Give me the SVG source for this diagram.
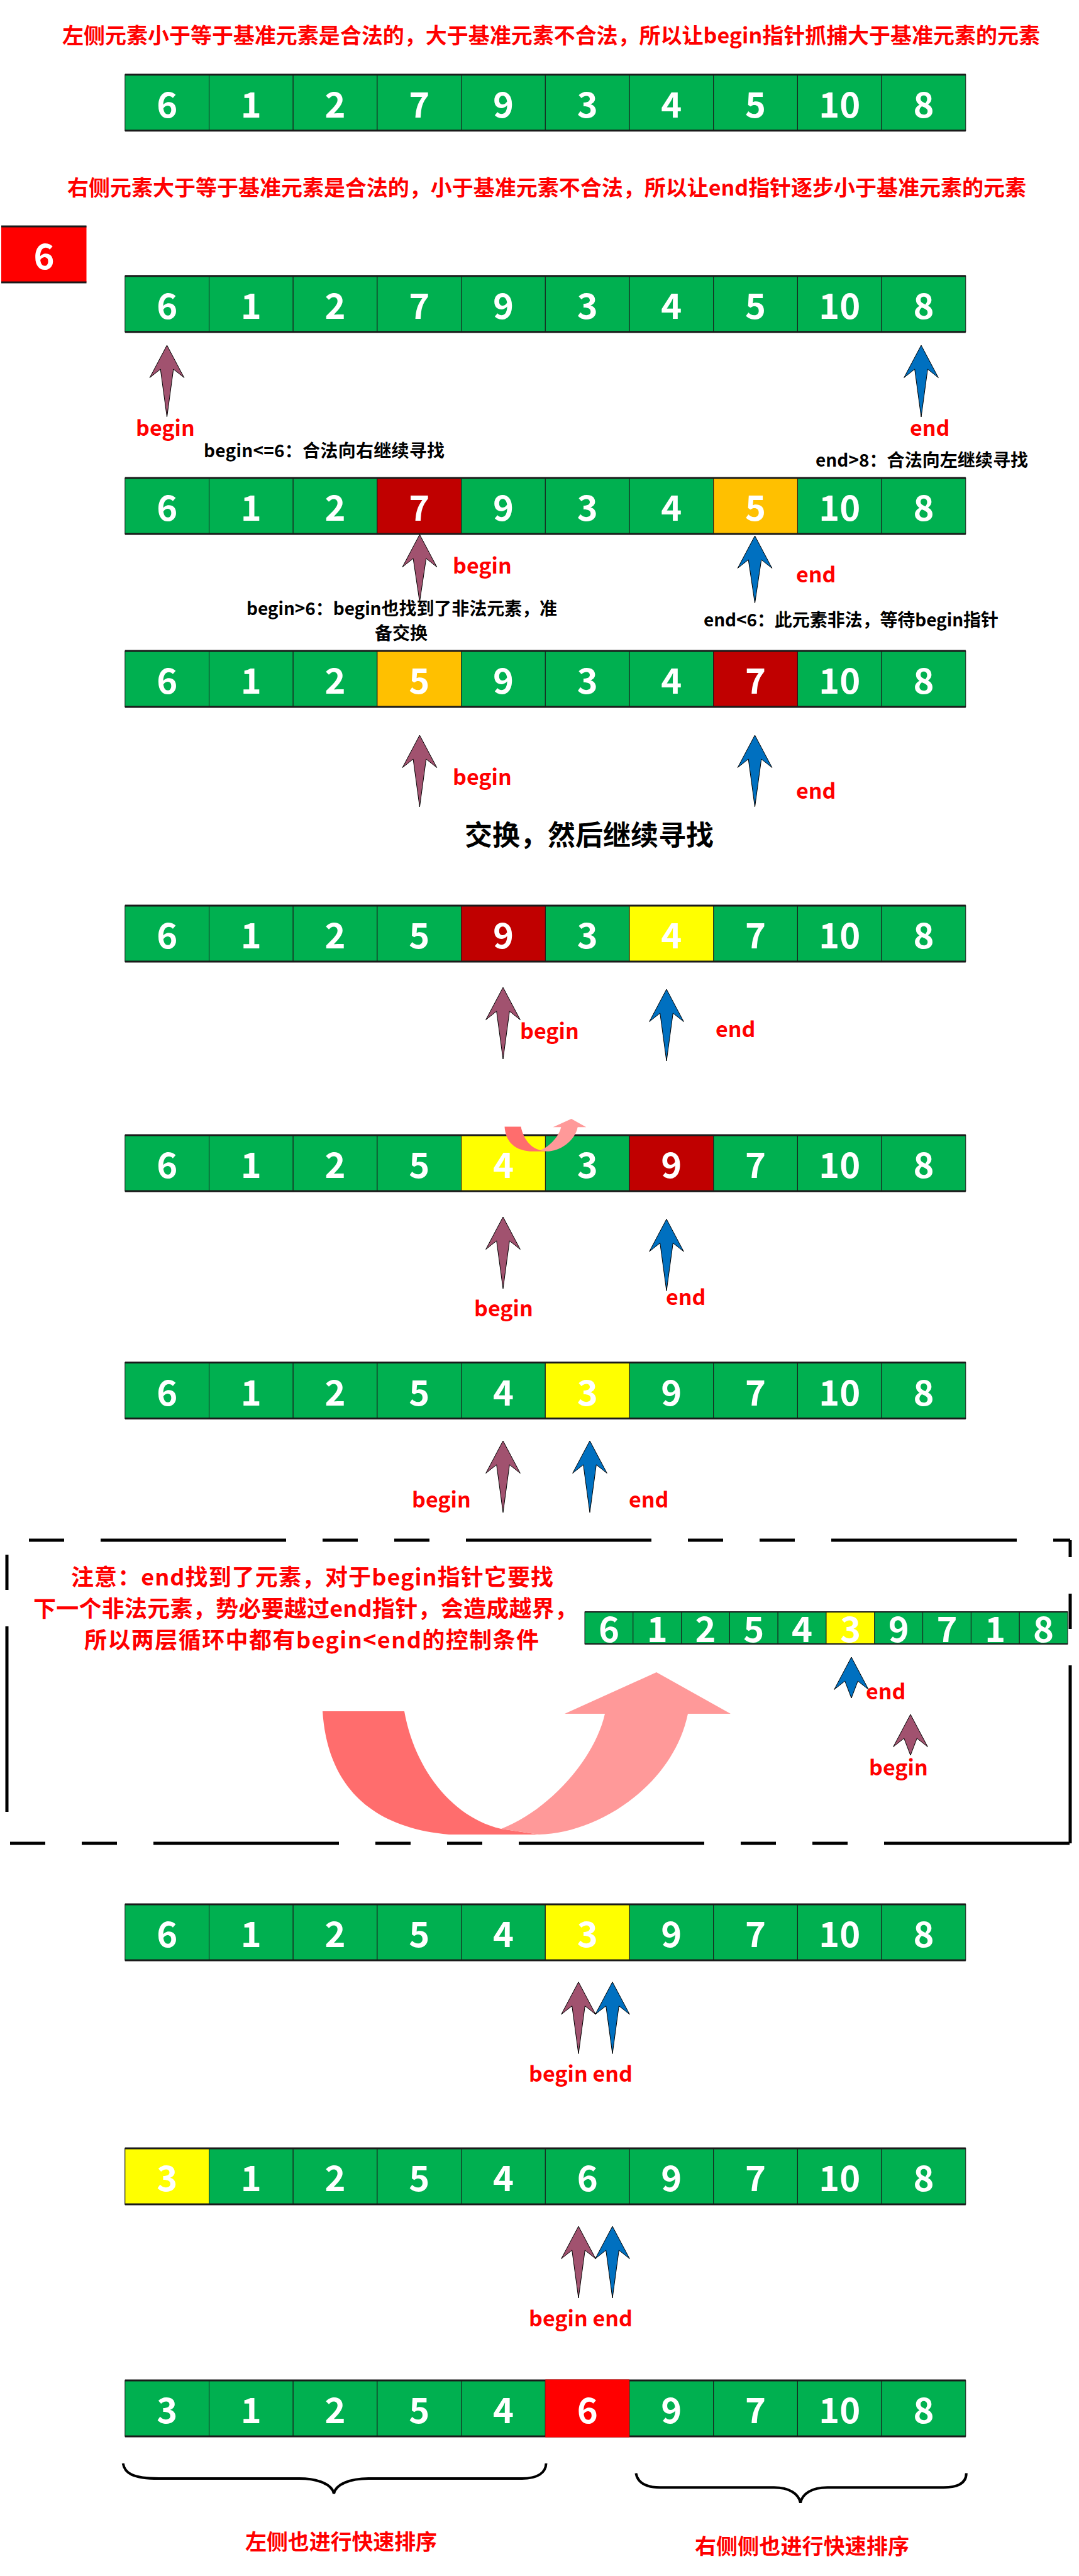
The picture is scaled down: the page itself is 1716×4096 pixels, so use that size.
<svg xmlns="http://www.w3.org/2000/svg" xmlns:xlink="http://www.w3.org/1999/xlink" width="1716" height="4096" viewBox="0 0 1716 4096">
<style>
.c{stroke:#1a1a1a;stroke-width:1}
.g{fill:#00B050}.dr{fill:#C00000}.or{fill:#FFC000}.ye{fill:#FFFF00}.rd{fill:#FF0000}
.bar{fill:#1a1a1a}
.num{font-family:"Noto Sans CJK SC","Noto Sans",sans-serif;font-weight:700;font-size:56px;fill:#fff;text-anchor:middle}
.title{font-family:"Noto Sans CJK SC",sans-serif;font-weight:700;font-size:34px;fill:#FF0000}
.lbl{font-family:"Noto Sans CJK SC","Noto Sans",sans-serif;font-weight:700;font-size:34px;fill:#FF0000}
.ann{font-family:"Noto Sans CJK SC",sans-serif;font-weight:700;font-size:28px;fill:#000}
.big{font-family:"Noto Sans CJK SC",sans-serif;font-weight:700;font-size:44px;fill:#000;text-anchor:middle}
.pb{fill:#A1526F;stroke:#000;stroke-width:1}
.pe{fill:#0070C0;stroke:#000;stroke-width:1}
.dash{stroke:#000;stroke-width:5;fill:none;stroke-dasharray:295 58 56 58 56 58}
.brace{fill:none;stroke:#000;stroke-width:4}
</style>
<defs>
<g id="row">
<rect class="c g" x="198.8" y="0" width="133.7" height="89"/>
<rect class="c g" x="332.5" y="0" width="133.7" height="89"/>
<rect class="c g" x="466.2" y="0" width="133.7" height="89"/>
<rect class="c g" x="599.9" y="0" width="133.7" height="89"/>
<rect class="c g" x="733.6" y="0" width="133.7" height="89"/>
<rect class="c g" x="867.3" y="0" width="133.7" height="89"/>
<rect class="c g" x="1001" y="0" width="133.7" height="89"/>
<rect class="c g" x="1134.7" y="0" width="133.7" height="89"/>
<rect class="c g" x="1268.4" y="0" width="133.7" height="89"/>
<rect class="c g" x="1402.1" y="0" width="133.7" height="89"/>
</g>
<g id="bars">
<rect class="bar" x="198.8" y="-1.5" width="1337" height="3"/>
<rect class="bar" x="198.8" y="87.5" width="1337" height="3"/>
</g>
<path id="arL" d="M0,0 L27.3,51.5 L10.3,38 L0,114 L-10.3,38 L-27.3,51.5 Z"/>
<path id="arM" d="M0,0 L27.3,51.5 L10.3,38 L0,107 L-10.3,38 L-27.3,51.5 Z"/>
<path id="arS" d="M0,0 L27.3,51.5 L10.3,38 L0,65 L-10.3,38 L-27.3,51.5 Z"/>
<g id="curve">
<path fill="#FF6D6D" d="M513,2721 L643,2721 C660,2815 720,2890 797,2908 L857,2917 L714,2917 C580,2905 520,2830 513,2721 Z"/>
<path fill="#FF9999" d="M797,2908 C870,2880 945,2800 962,2725 L898,2725 L1044,2659 L1162,2725 L1094,2725 C1070,2840 950,2915 857,2917 Z"/>
</g>
</defs>

<g id="title1"><text class="title" x="99" y="69" textLength="1555">左侧元素小于等于基准元素是合法的，大于基准元素不合法，所以让begin指针抓捕大于基准元素的元素</text></g>

<g id="arr1" transform="translate(0,118.7)">
<use href="#row"/><use href="#bars"/>
<text class="num" x="265.65" y="68">6</text><text class="num" x="399.35" y="68">1</text><text class="num" x="533.05" y="68">2</text><text class="num" x="666.75" y="68">7</text><text class="num" x="800.45" y="68">9</text><text class="num" x="934.15" y="68">3</text><text class="num" x="1067.85" y="68">4</text><text class="num" x="1201.55" y="68">5</text><text class="num" x="1335.25" y="68">10</text><text class="num" x="1468.95" y="68">8</text>
</g>

<g id="title2"><text class="title" x="107" y="311" textLength="1525">右侧元素大于等于基准元素是合法的，小于基准元素不合法，所以让end指针逐步小于基准元素的元素</text></g>

<g id="pivot">
<rect class="rd" x="2" y="360" width="135.5" height="89"/>
<rect class="bar" x="2" y="358.5" width="135.5" height="3"/>
<rect class="bar" x="2" y="447.5" width="135.5" height="3"/>
<text class="num" x="70" y="428">6</text>
</g>

<g id="arr2" transform="translate(0,438.8)">
<use href="#row"/><use href="#bars"/>
<text class="num" x="265.65" y="68">6</text><text class="num" x="399.35" y="68">1</text><text class="num" x="533.05" y="68">2</text><text class="num" x="666.75" y="68">7</text><text class="num" x="800.45" y="68">9</text><text class="num" x="934.15" y="68">3</text><text class="num" x="1067.85" y="68">4</text><text class="num" x="1201.55" y="68">5</text><text class="num" x="1335.25" y="68">10</text><text class="num" x="1468.95" y="68">8</text>
</g>

<g id="arr3" transform="translate(0,760)">
<use href="#row"/>
<rect class="c dr" x="599.9" y="0" width="133.7" height="89"/>
<rect class="c or" x="1134.7" y="0" width="133.7" height="89"/>
<use href="#bars"/>
<text class="num" x="265.65" y="68">6</text><text class="num" x="399.35" y="68">1</text><text class="num" x="533.05" y="68">2</text><text class="num" x="666.75" y="68">7</text><text class="num" x="800.45" y="68">9</text><text class="num" x="934.15" y="68">3</text><text class="num" x="1067.85" y="68">4</text><text class="num" x="1201.55" y="68">5</text><text class="num" x="1335.25" y="68">10</text><text class="num" x="1468.95" y="68">8</text>
</g>

<g id="arr4" transform="translate(0,1035)">
<use href="#row"/>
<rect class="c or" x="599.9" y="0" width="133.7" height="89"/>
<rect class="c dr" x="1134.7" y="0" width="133.7" height="89"/>
<use href="#bars"/>
<text class="num" x="265.65" y="68">6</text><text class="num" x="399.35" y="68">1</text><text class="num" x="533.05" y="68">2</text><text class="num" x="666.75" y="68">5</text><text class="num" x="800.45" y="68">9</text><text class="num" x="934.15" y="68">3</text><text class="num" x="1067.85" y="68">4</text><text class="num" x="1201.55" y="68">7</text><text class="num" x="1335.25" y="68">10</text><text class="num" x="1468.95" y="68">8</text>
</g>

<g id="arr5" transform="translate(0,1440)">
<use href="#row"/>
<rect class="c dr" x="733.6" y="0" width="133.7" height="89"/>
<rect class="c ye" x="1001" y="0" width="133.7" height="89"/>
<use href="#bars"/>
<text class="num" x="265.65" y="68">6</text><text class="num" x="399.35" y="68">1</text><text class="num" x="533.05" y="68">2</text><text class="num" x="666.75" y="68">5</text><text class="num" x="800.45" y="68">9</text><text class="num" x="934.15" y="68">3</text><text class="num" x="1067.85" y="68">4</text><text class="num" x="1201.55" y="68">7</text><text class="num" x="1335.25" y="68">10</text><text class="num" x="1468.95" y="68">8</text>
</g>

<g id="arr6" transform="translate(0,1805)">
<use href="#row"/>
<rect class="c ye" x="733.6" y="0" width="133.7" height="89"/>
<rect class="c dr" x="1001" y="0" width="133.7" height="89"/>
<use href="#bars"/>
<text class="num" x="265.65" y="68">6</text><text class="num" x="399.35" y="68">1</text><text class="num" x="533.05" y="68">2</text><text class="num" x="666.75" y="68">5</text><text class="num" x="800.45" y="68">4</text><text class="num" x="934.15" y="68">3</text><text class="num" x="1067.85" y="68">9</text><text class="num" x="1201.55" y="68">7</text><text class="num" x="1335.25" y="68">10</text><text class="num" x="1468.95" y="68">8</text>
</g>

<g id="swap-arrow-small"><use href="#curve" transform="translate(802.5,1791.5) scale(0.2) translate(-513,-2721)"/></g>

<g id="arr7" transform="translate(0,2166.5)">
<use href="#row"/>
<rect class="c ye" x="867.3" y="0" width="133.7" height="89"/>
<use href="#bars"/>
<text class="num" x="265.65" y="68">6</text><text class="num" x="399.35" y="68">1</text><text class="num" x="533.05" y="68">2</text><text class="num" x="666.75" y="68">5</text><text class="num" x="800.45" y="68">4</text><text class="num" x="934.15" y="68">3</text><text class="num" x="1067.85" y="68">9</text><text class="num" x="1201.55" y="68">7</text><text class="num" x="1335.25" y="68">10</text><text class="num" x="1468.95" y="68">8</text>
</g>

<g id="note-box">
<line class="dash" x1="11" y1="2449" x2="1702" y2="2449" stroke-dashoffset="432"/>
<line class="dash" x1="1702" y1="2449" x2="1702" y2="2931" stroke-dashoffset="382"/>
<line class="dash" x1="11" y1="2931" x2="1702" y2="2931" stroke-dashoffset="348"/>
<line class="dash" x1="11" y1="2449" x2="11" y2="2931" stroke-dashoffset="444"/>
<text class="lbl" font-size="36" x="113" y="2520.6" textLength="767" style="font-size:36px">注意：end找到了元素，对于begin指针它要找</text>
<text class="lbl" x="53" y="2571" textLength="865" style="font-size:36px">下一个非法元素，势必要越过end指针，会造成越界，</text>
<text class="lbl" x="134" y="2621" textLength="723" style="font-size:36px">所以两层循环中都有begin&lt;end的控制条件</text>
</g>

<g id="arr-small" transform="translate(0,2563)">
<rect class="c g" x="930" y="0" width="76.8" height="51"/>
<rect class="c g" x="1006.8" y="0" width="76.8" height="51"/>
<rect class="c g" x="1083.6" y="0" width="76.8" height="51"/>
<rect class="c g" x="1160.4" y="0" width="76.8" height="51"/>
<rect class="c g" x="1237.2" y="0" width="76.8" height="51"/>
<rect class="c ye" x="1314" y="0" width="76.8" height="51"/>
<rect class="c g" x="1390.8" y="0" width="76.8" height="51"/>
<rect class="c g" x="1467.6" y="0" width="76.8" height="51"/>
<rect class="c g" x="1544.4" y="0" width="76.8" height="51"/>
<rect class="c g" x="1621.2" y="0" width="76.8" height="51"/>
<rect class="bar" x="930" y="-1" width="768" height="2"/>
<rect class="bar" x="930" y="50" width="768" height="2"/>
<text class="num" x="968.4" y="48">6</text><text class="num" x="1045.2" y="48">1</text><text class="num" x="1122" y="48">2</text><text class="num" x="1198.8" y="48">5</text><text class="num" x="1275.6" y="48">4</text><text class="num" x="1352.4" y="48">3</text><text class="num" x="1429.2" y="48">9</text><text class="num" x="1506" y="48">7</text><text class="num" x="1582.8" y="48">1</text><text class="num" x="1659.6" y="48">8</text>
</g>

<g id="swap-arrow-big"><use href="#curve"/></g>

<g id="arr8" transform="translate(0,3028)">
<use href="#row"/>
<rect class="c ye" x="867.3" y="0" width="133.7" height="89"/>
<use href="#bars"/>
<text class="num" x="265.65" y="68">6</text><text class="num" x="399.35" y="68">1</text><text class="num" x="533.05" y="68">2</text><text class="num" x="666.75" y="68">5</text><text class="num" x="800.45" y="68">4</text><text class="num" x="934.15" y="68">3</text><text class="num" x="1067.85" y="68">9</text><text class="num" x="1201.55" y="68">7</text><text class="num" x="1335.25" y="68">10</text><text class="num" x="1468.95" y="68">8</text>
</g>

<g id="arr9" transform="translate(0,3416)">
<use href="#row"/>
<rect class="c ye" x="198.8" y="0" width="133.7" height="89"/>
<use href="#bars"/>
<text class="num" x="265.65" y="68">3</text><text class="num" x="399.35" y="68">1</text><text class="num" x="533.05" y="68">2</text><text class="num" x="666.75" y="68">5</text><text class="num" x="800.45" y="68">4</text><text class="num" x="934.15" y="68">6</text><text class="num" x="1067.85" y="68">9</text><text class="num" x="1201.55" y="68">7</text><text class="num" x="1335.25" y="68">10</text><text class="num" x="1468.95" y="68">8</text>
</g>

<g id="arr10" transform="translate(0,3785)">
<use href="#row"/>
<use href="#bars"/>
<rect class="rd" x="867.3" y="-1.5" width="133.7" height="92"/>
<text class="num" x="265.65" y="68">3</text><text class="num" x="399.35" y="68">1</text><text class="num" x="533.05" y="68">2</text><text class="num" x="666.75" y="68">5</text><text class="num" x="800.45" y="68">4</text><text class="num" x="934.15" y="68">6</text><text class="num" x="1067.85" y="68">9</text><text class="num" x="1201.55" y="68">7</text><text class="num" x="1335.25" y="68">10</text><text class="num" x="1468.95" y="68">8</text>
</g>

<g id="connectors">
<use href="#arL" class="pb" x="265.5" y="549"/>
<use href="#arL" class="pe" x="1465" y="549"/>
<use href="#arM" class="pb" x="667.4" y="850"/>
<use href="#arM" class="pe" x="1200.5" y="852"/>
<use href="#arL" class="pb" x="667.4" y="1169"/>
<use href="#arL" class="pe" x="1200.5" y="1169"/>
<use href="#arL" class="pb" x="800" y="1570"/>
<use href="#arL" class="pe" x="1060" y="1573"/>
<use href="#arL" class="pb" x="800" y="1935"/>
<use href="#arL" class="pe" x="1060" y="1938.5"/>
<use href="#arL" class="pb" x="800" y="2291"/>
<use href="#arL" class="pe" x="938" y="2291"/>
<use href="#arS" class="pe" x="1354" y="2635"/>
<use href="#arS" class="pb" x="1448" y="2726"/>
<use href="#arL" class="pb" x="920" y="3151.5"/>
<use href="#arL" class="pe" x="974" y="3151.5"/>
<use href="#arL" class="pb" x="920" y="3540"/>
<use href="#arL" class="pe" x="974" y="3540"/>
<path class="brace" d="M195.7,3917 C198,3932 210,3941 252.8,3941 L476,3941 C505,3941 528,3950 531,3965 C534,3950 557,3941 586,3941 L830,3941 C855,3941 868,3932 868.5,3917"/>
<path class="brace" d="M1011.4,3932.6 C1014,3947 1025,3955.2 1049.8,3955.2 L1231,3955.2 C1255,3955.2 1270,3965 1273,3979.5 C1276,3965 1291,3955.2 1315.9,3955.2 L1500.6,3955.2 C1525,3955.2 1536.8,3947 1536.8,3932.6"/>
</g>

<g id="labels">
<text class="lbl" x="216" y="693">begin</text>
<text class="lbl" x="1447" y="693">end</text>
<text class="ann" x="324" y="727" textLength="383">begin&lt;=6：合法向右继续寻找</text>
<text class="ann" x="1297" y="742" textLength="338">end&gt;8：合法向左继续寻找</text>
<text class="lbl" x="720" y="912">begin</text>
<text class="lbl" x="1266" y="926">end</text>
<text class="ann" x="392" y="978" textLength="494">begin&gt;6：begin也找到了非法元素，准</text>
<text class="ann" x="638" y="1017" text-anchor="middle">备交换</text>
<text class="ann" x="1119" y="996" textLength="469">end&lt;6：此元素非法，等待begin指针</text>
<text class="lbl" x="720" y="1248">begin</text>
<text class="lbl" x="1266" y="1270">end</text>
<text class="big" x="937" y="1344">交换，然后继续寻找</text>
<text class="lbl" x="827" y="1652">begin</text>
<text class="lbl" x="1138" y="1649">end</text>
<text class="lbl" x="754" y="2093">begin</text>
<text class="lbl" x="1059" y="2075">end</text>
<text class="lbl" x="655" y="2397">begin</text>
<text class="lbl" x="1000" y="2397">end</text>
<text class="lbl" x="1377" y="2702">end</text>
<text class="lbl" x="1382" y="2823">begin</text>
<text class="lbl" x="841" y="3310">begin end</text>
<text class="lbl" x="841" y="3699">begin end</text>
<text class="lbl" x="390" y="4054" textLength="305">左侧也进行快速排序</text>
<text class="lbl" x="1105" y="4061" textLength="341">右侧侧也进行快速排序</text>
</g>
</svg>
